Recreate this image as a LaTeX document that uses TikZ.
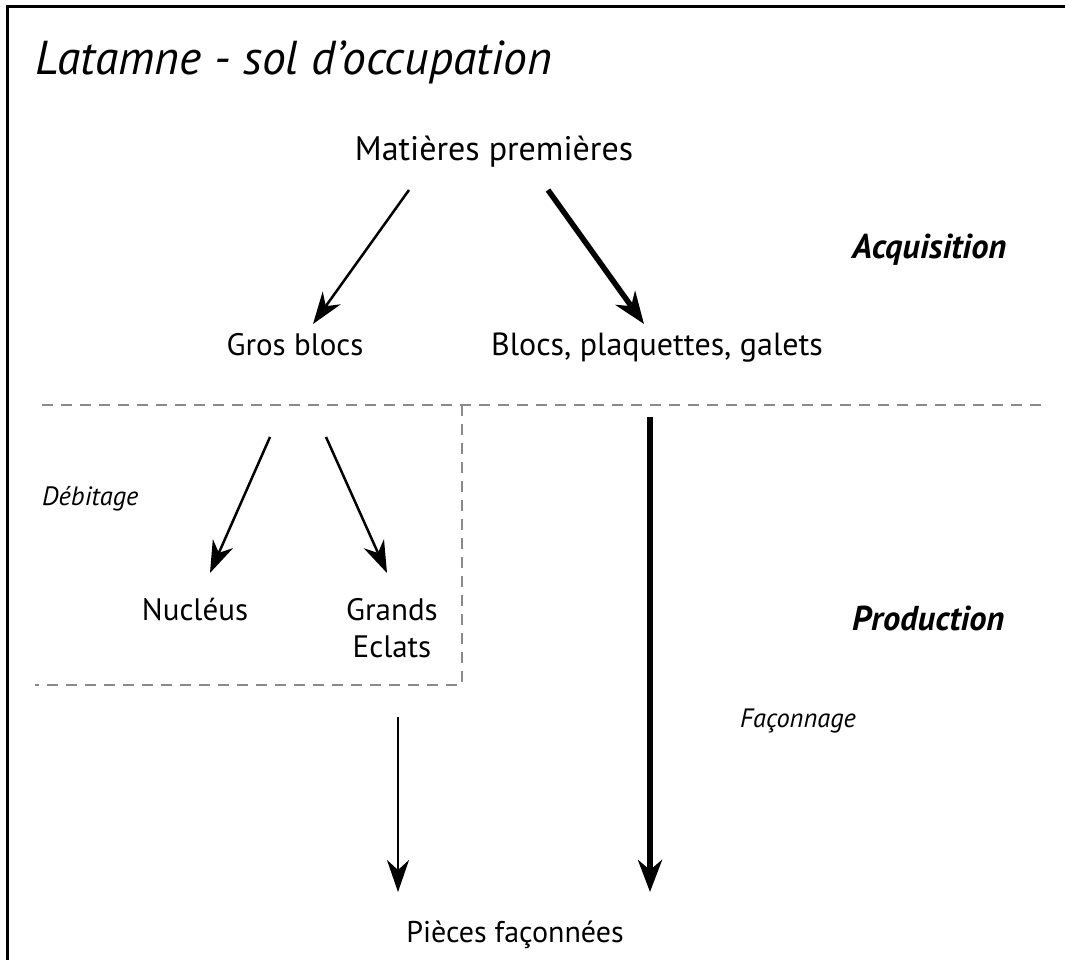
\documentclass[tikz,border=0pt]{standalone}
\usepackage{fontspec}
\setmainfont{PT Sans}
\usetikzlibrary{arrows.meta, positioning, calc}
\definecolor{ltmdark}{HTML}{000000}
\definecolor{ltmgray}{HTML}{8A8A8A}
\tikzset{
  lbl/.style={font=\fontsize{31}{37}\selectfont, anchor=base, inner sep=0pt, align=center},
  phase/.style={font=\fontsize{34.5}{40}\selectfont\bfseries\itshape, anchor=base west, inner sep=0pt},
  techlbl/.style={font=\fontsize{26.5}{31}\selectfont\itshape, anchor=base west, inner sep=0pt},
  thinarr/.style={-{Stealth[length=32pt, width=22pt, inset=10pt]}, line width=2.5pt, ltmdark},
  thickarr/.style={-{Stealth[length=32pt, width=24pt, inset=10pt]}, line width=5.5pt, ltmdark},
  zone/.style={draw=ltmgray, line width=2.5pt, dash pattern=on 11pt off 8pt},
}

\begin{document}
\begin{tikzpicture}[x=1pt, y=-1pt]
    \useasboundingbox (0,0) rectangle (1065,960);
    % frame
    \draw[line width=3pt] (7,960) -- (7,7) -- (1065,7);

    \node[font=\fontsize{47.6}{56}\selectfont\itshape, anchor=base west, inner sep=0pt] (title) at (35,75) {Latamne - sol d'occupation};

    \node[lbl, font=\fontsize{34}{40}\selectfont] (mat) at (494,161) {Matières premières};
    \node[lbl] (gros) at (295,355) {Gros blocs};
    \node[lbl, font=\fontsize{32}{38}\selectfont] (blocs) at (657,355) {Blocs, plaquettes, galets};
    \node[lbl] (nucl) at (195,620) {Nucléus};
    \node[lbl, anchor=north] (eclats) at (392,598) {Grands\\Eclats};
    \node[lbl, font=\fontsize{30}{36}\selectfont] (pieces) at (515,942) {Pièces façonnées};

    \node[phase] (acq) at (852,258) {Acquisition};
    \node[phase] (prod) at (852,630) {Production};
    \node[techlbl] (debit) at (42,505) {Débitage};
    \node[techlbl] (faconn) at (740,727) {Façonnage};

    % zones
    \draw[zone] (42,405) -- (1045,405);
    \draw[zone] (462,405) -- (462,685) -- (35,685);

    % acquisition
    \coordinate (m1) at (409,190);
    \coordinate (m2) at (548,190);
    \coordinate (g1) at (313,324);
    \coordinate (b1) at (644,324);
    \draw[thinarr] (m1) -- (g1);
    \draw[thickarr] (m2) -- (b1);

    % debitage
    \coordinate (g2) at (270,437);
    \coordinate (g3) at (326,437);
    \coordinate (n1) at (210,573);
    \coordinate (e1) at (387,573);
    \draw[thinarr] (g2) -- (n1);
    \draw[thinarr] (g3) -- (e1);

    % production
    \coordinate (d1) at (398,717);
    \coordinate (b2) at (650,417);
    \coordinate (p1) at (398,892);
    \coordinate (p2) at (650,892);
    \draw[thinarr] (d1) -- (p1);
    \draw[thickarr] (b2) -- (p2);
\end{tikzpicture}
\end{document}
